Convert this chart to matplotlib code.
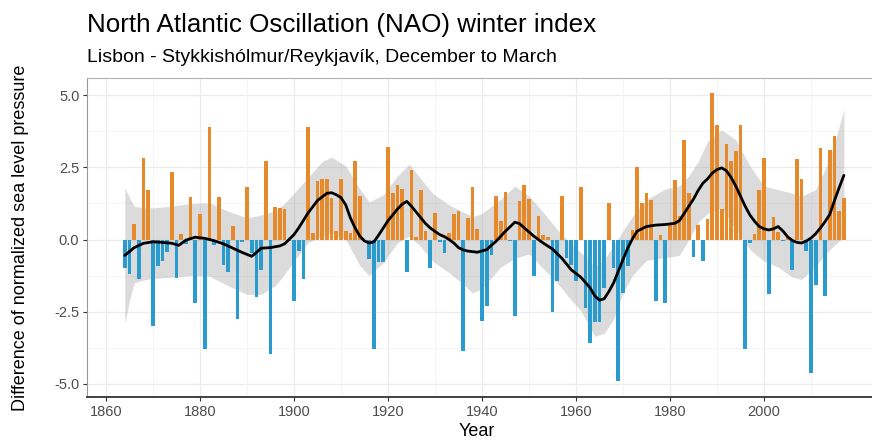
import numpy as np
import matplotlib.pyplot as plt

# NAO winter index (Dec-Mar), station based
years = np.arange(1864, 2018)
nao = [
    -1.00, -1.20, 0.54, -1.36, 2.83, 1.70, -3.00, -0.92, -0.75, -0.44,   # 1864-1873
    2.33, -1.33, 0.20, -0.15, 1.48, -2.20, 0.90, -3.80, 3.90, -0.20,     # 1874-1883
    1.47, -0.87, -1.13, 0.48, -2.75, -0.10, 1.81, -0.46, -2.00, -1.06,   # 1884-1893
    2.71, -3.96, 1.13, 1.10, 1.04, -0.05, -2.13, -0.40, -1.38, 3.90,     # 1894-1903
    0.23, 2.02, 2.08, 2.08, 1.44, 0.30, 2.10, 0.29, 0.23, 2.71,          # 1904-1913
    1.50, -0.10, -0.67, -3.78, -0.78, -0.78, 3.19, 1.60, 1.87, 1.75,     # 1914-1923
    -1.12, 2.42, 0.10, 1.73, 0.30, -1.00, 0.92, -0.10, -0.46, 0.23,      # 1924-1933
    0.87, 0.98, -3.86, 0.75, 1.81, 0.38, -2.83, -2.30, -0.52, 1.50,      # 1934-1943
    0.63, 1.64, -0.05, -2.65, 1.33, 1.90, 1.40, -1.25, 0.83, 0.17,       # 1944-1953
    0.09, -2.51, -1.44, 1.52, -0.63, -0.87, -1.44, 1.81, -2.36, -3.58,   # 1954-1963
    -2.86, -2.86, -1.67, 1.27, -1.00, -4.88, -1.85, -0.92, 0.32, 2.51,   # 1964-1973
    1.25, 1.60, 1.36, -2.13, 0.17, -2.21, 0.52, 2.05, 0.80, 3.44,        # 1974-1983
    1.60, -0.60, 0.50, -0.75, 0.72, 5.08, 3.98, 1.04, 3.29, 2.71,        # 1984-1993
    3.06, 3.98, -3.78, -0.12, 0.20, 1.70, 2.83, -1.87, 0.77, 0.25,       # 1994-2003
    -0.05, 0.08, -1.06, 2.80, 2.10, -0.38, -4.61, -1.56, 3.17, -1.96,    # 2004-2013
    3.11, 3.58, 0.98, 1.44,                                              # 2014-2017
]

# smoothed curve (loess)
smooth_years = [1864, 1866, 1868, 1870, 1872, 1874, 1875.5, 1877, 1879, 1881,
                1883, 1885, 1887, 1889, 1891, 1892, 1893, 1895, 1897, 1898,
                1900, 1901, 1903, 1905, 1907, 1908, 1909, 1910, 1911, 1912,
                1913, 1914, 1915, 1916, 1917, 1918, 1919, 1920, 1921, 1922,
                1923, 1924, 1925, 1926, 1927, 1928, 1929, 1930, 1931, 1932,
                1933, 1934, 1935, 1936, 1937, 1939, 1941, 1942, 1943, 1945,
                1947, 1948, 1949, 1951, 1953, 1955, 1957, 1959, 1961, 1963,
                1964, 1965, 1966, 1967, 1968, 1969, 1970, 1971, 1972, 1973,
                1975, 1977, 1979, 1981, 1982, 1983, 1984, 1985, 1986, 1987,
                1988, 1989, 1990, 1991, 1992, 1993, 1994, 1995, 1996, 1997,
                1998, 1999, 2000, 2001, 2002, 2003, 2004, 2005, 2006, 2007,
                2008, 2009, 2010, 2011, 2012, 2013, 2014, 2015, 2016, 2017]
smooth = [-0.55, -0.28, -0.13, -0.08, -0.10, -0.13, -0.20, -0.02, 0.08, 0.04,
          -0.04, -0.15, -0.30, -0.45, -0.58, -0.45, -0.30, -0.28, -0.22, -0.15,
          0.17, 0.40, 0.92, 1.35, 1.60, 1.62, 1.55, 1.45, 1.20, 0.75,
          0.40, 0.12, -0.05, -0.12, -0.08, 0.15, 0.40, 0.65, 0.85, 1.05,
          1.22, 1.32, 1.15, 0.95, 0.75, 0.55, 0.40, 0.28, 0.17, 0.10,
          0.00, -0.12, -0.28, -0.36, -0.40, -0.44, -0.35, -0.20, -0.06, 0.29,
          0.60, 0.55, 0.40, 0.12, -0.12, -0.33, -0.65, -1.05, -1.30, -1.67,
          -1.95, -2.10, -2.05, -1.80, -1.50, -1.10, -0.69, -0.30, 0.02, 0.29,
          0.45, 0.50, 0.52, 0.56, 0.65, 0.90, 1.15, 1.40, 1.70, 1.95,
          2.10, 2.30, 2.42, 2.48, 2.38, 2.15, 1.85, 1.50, 1.15, 0.85,
          0.63, 0.45, 0.37, 0.33, 0.37, 0.45, 0.30, 0.10, -0.03, -0.10,
          -0.12, -0.05, 0.05, 0.20, 0.40, 0.62, 0.87, 1.35, 1.80, 2.22]

# confidence band around the smooth
band_years = [1864, 1865, 1866, 1868, 1870, 1874, 1878, 1882, 1886, 1890,
              1893, 1896, 1898, 1900, 1903, 1906, 1908, 1911, 1914, 1916,
              1919, 1922, 1924.5, 1927, 1929.5, 1933, 1936, 1938, 1940, 1944,
              1947, 1950, 1953, 1956, 1959, 1961, 1964, 1966, 1968, 1970,
              1972, 1975, 1979, 1982, 1984, 1986, 1988, 1991, 1994, 1997,
              2000, 2003, 2006, 2008, 2011, 2014, 2016, 2017]
band_hi = [1.80, 1.45, 1.15, 1.10, 1.10, 1.15, 1.25, 1.27, 0.98, 0.75,
           0.85, 1.00, 1.25, 1.60, 2.15, 2.70, 2.85, 2.55, 1.75, 1.30,
           1.55, 2.20, 2.60, 2.10, 1.60, 1.20, 0.95, 0.80, 0.90, 1.40,
           1.85, 1.50, 0.95, 0.35, -0.15, -0.45, -0.90, -0.70, -0.20, 0.30,
           0.80, 1.38, 1.75, 1.85, 2.20, 2.70, 3.40, 3.80, 3.45, 2.55,
           1.85, 1.73, 1.60, 1.50, 1.73, 2.80, 3.90, 4.50]
band_lo = [-2.90, -2.10, -1.50, -1.40, -1.35, -1.30, -1.25, -1.27, -1.60, -1.90,
           -1.90, -1.60, -1.20, -0.75, -0.10, 0.12, 0.23, 0.00, -0.90, -1.25,
           -0.80, -0.12, 0.12, -0.25, -0.75, -1.15, -1.55, -1.85, -1.70, -0.95,
           -0.65, -0.50, -1.00, -1.50, -2.10, -2.45, -3.35, -3.25, -2.75, -1.85,
           -1.25, -0.72, -0.63, -0.55, 0.00, 0.60, 0.90, 1.10, 0.35, -0.35,
           -0.75, -0.95, -1.30, -1.38, -0.92, -0.35, -0.05, 0.10]

plt.rcParams['font.family'] = ['Liberation Sans', 'DejaVu Sans']

fig = plt.figure(figsize=(8.72, 4.41), dpi=100)
ax = fig.add_axes([87 / 872, 44 / 441, 785 / 872, 319 / 441])

orange = '#E5892B'
blue = '#2A9BCF'
colors = [orange if v > 0 else blue for v in nao]

ax.fill_between(band_years, band_lo, band_hi, color='#999999', alpha=0.35,
                linewidth=0, zorder=1)
ax.bar(years, nao, width=0.8, color=colors, zorder=2)
ax.plot(smooth_years, smooth, color='black', linewidth=2.0, zorder=3,
        solid_capstyle='round')

ax.set_xlim(1855.96, 2022.98)
ax.set_ylim(-5.45, 5.59)
ax.set_xticks([1860, 1880, 1900, 1920, 1940, 1960, 1980, 2000])
ax.set_xticks(np.arange(1870, 2030, 20), minor=True)
ax.set_yticks([-5, -2.5, 0, 2.5, 5])
ax.set_yticks([-3.75, -1.25, 1.25, 3.75], minor=True)
ax.set_yticklabels(['-5.0', '-2.5', '0.0', '2.5', '5.0'])

ax.grid(which='major', color='#EBEBEB', linewidth=0.9, zorder=0)
ax.grid(which='minor', color='#F2F2F2', linewidth=0.6, zorder=0)
ax.set_axisbelow(True)

ax.spines['right'].set_visible(False)
ax.spines['top'].set_color('#B3B3B3')
ax.spines['left'].set_color('#999999')
ax.spines['bottom'].set_color('#333333')
ax.spines['bottom'].set_linewidth(1.3)
ax.tick_params(which='major', length=3, color='#333333', labelcolor='#4D4D4D',
               labelsize=10.5, pad=2.5)
ax.tick_params(which='minor', length=0)

ax.set_xlabel('Year', fontsize=13)
ax.xaxis.set_label_coords(0.497, -0.082)
ax.set_ylabel('Difference of normalized sea level pressure', fontsize=13)
ax.yaxis.set_label_coords(-0.074, 0.5)

fig.text(87 / 872, 1 - 25 / 441, 'North Atlantic Oscillation (NAO) winter index',
         fontsize=18.7, va='center', ha='left')
fig.text(87 / 872, 1 - 58 / 441, 'Lisbon - Stykkishólmur/Reykjavík, December to March',
         fontsize=14, va='center', ha='left')

fig.savefig('out.png', dpi=100)
